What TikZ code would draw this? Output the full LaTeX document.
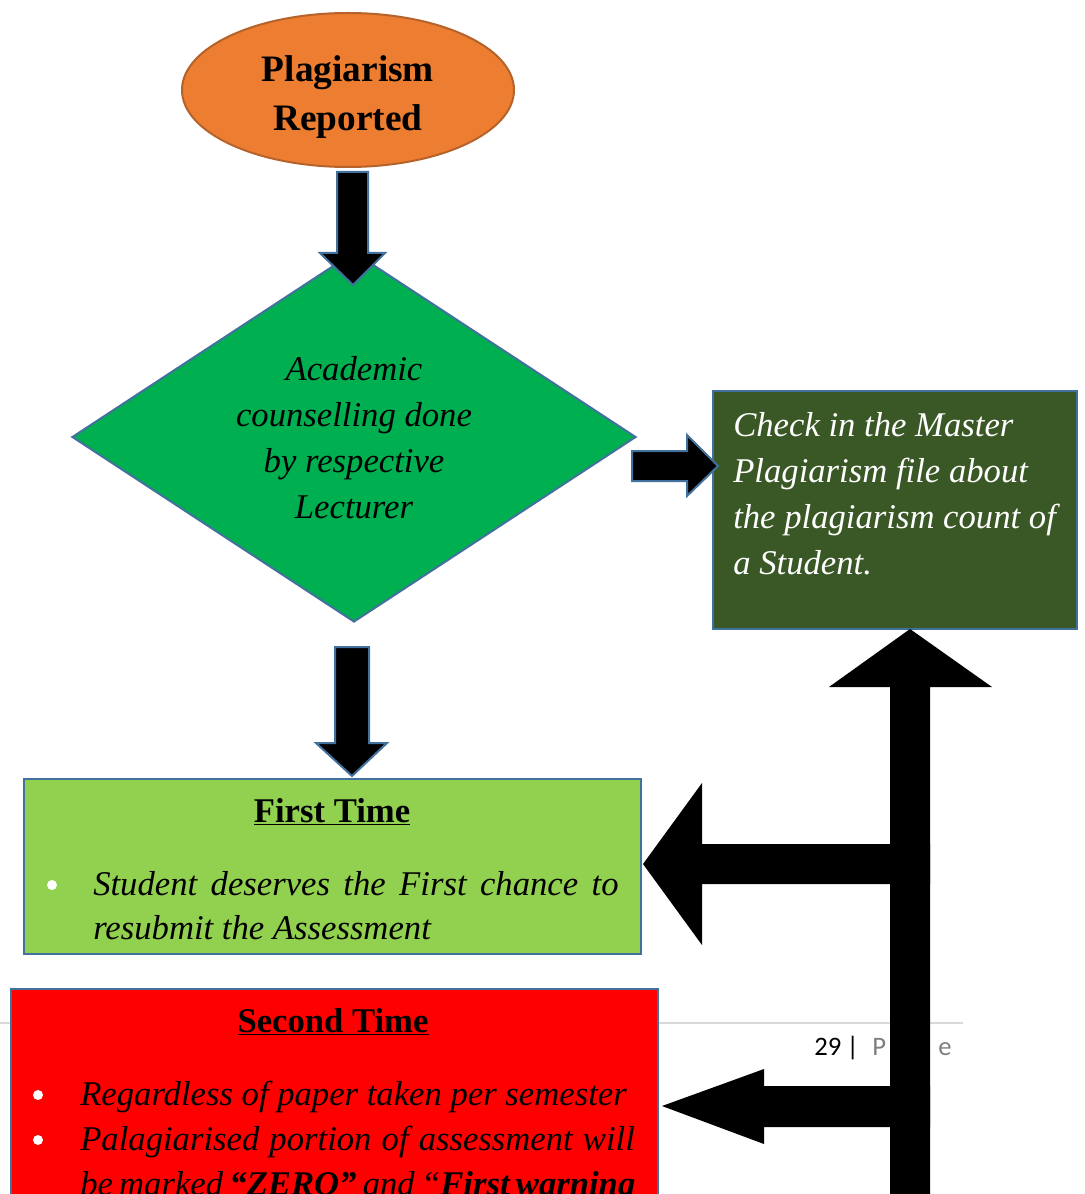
\documentclass[tikz,border=0pt]{standalone}
\usepackage{fontspec}
\setmainfont{Liberation Serif}
\newfontfamily\calib{Carlito}
\usetikzlibrary{shapes.geometric}
\definecolor{orangeF}{HTML}{ED7D31}
\definecolor{orangeD}{HTML}{B5632A}
\definecolor{bordB}{HTML}{41719C}
\definecolor{diaG}{HTML}{00B050}
\definecolor{darkG}{HTML}{3A5726}
\definecolor{lightG}{HTML}{92D050}
\definecolor{redF}{HTML}{FF0000}
\definecolor{footG}{HTML}{D9D9D9}
\definecolor{pageG}{HTML}{7F7F7F}
\newcommand{\pxu}{*0.75pt}
\begin{document}
\begin{tikzpicture}[x=0.75pt,y=-0.75pt,
  blockarr/.style={fill=black, draw=bordB, line width=1.5pt, line join=miter},
  bigarr/.style={fill=black},
  boxS/.style={draw=bordB, line width=1.5pt, inner sep=0, anchor=north west},
  bul/.style={circle, fill=white, inner sep=0, minimum size=10\pxu},
  itf/.style={font=\itshape\fontsize{26}{34.5}\selectfont},
  ttl/.style={font=\bfseries\fontsize{26}{34}\selectfont, anchor=base, inner sep=0},
  txt/.style={anchor=base west, inner sep=0}]
\useasboundingbox (0,0) rectangle (1084,1194);
\clip (0,0) rectangle (1084,1194);
\fill[white] (0,0) rectangle (1084,1194);

% footer
\draw[footG, line width=1.5pt] (0,1023) -- (963,1023);
\node[txt, font=\calib\fontsize{20}{24}\selectfont] (pgnum) at (814,1055) {29\kern4pt |};
\node[txt, font=\calib\fontsize{20}{24}\selectfont, text=pageG] (pgword) at (872,1055) {P\kern6.75pt a\kern6.75pt g\kern6.75pt e};

% start
\node[ellipse, fill=orangeF, draw=orangeD, line width=1.5pt, minimum width=332\pxu, minimum height=154\pxu, inner sep=0] (start) at (348,90) {};
\node[font=\bfseries\fontsize{28}{36.75}\selectfont, align=center] (startt) at (348,97) {Plagiarism\\Reported};

% decision
\node[diamond, fill=diaG, draw=bordB, line width=1.5pt, minimum width=564\pxu, minimum height=370\pxu, inner sep=0] (dia) at (354,437) {};
\node[itf, align=center] (diat) at (354,438) {Academic\\counselling done\\by respective\\Lecturer};

% check box
\node[boxS, fill=darkG, minimum width=364\pxu, minimum height=238\pxu] (chk) at (712,390) {};
\node[txt, itf, text=white] (chkt) at (733,436) {\parbox[t]{350pt}{Check in the Master\\Plagiarism file about\\the plagiarism count of\\a Student.}};

% first time
\node[boxS, fill=lightG, minimum width=617\pxu, minimum height=175\pxu] (first) at (23,778) {};
\node[ttl] (firstt) at (332,822) {\underline{First Time}};
\node[bul] (b1) at (52,885) {};
\node[txt, font=\itshape\fontsize{26}{33}\selectfont] (firstx) at (93,895) {\parbox[t]{394pt}{Student deserves the First chance to\linebreak resubmit the Assessment}};

% second time
\node[boxS, fill=redF, minimum width=647\pxu, minimum height=260\pxu] (second) at (10,988) {};
\node[ttl] (secondt) at (333,1032) {\underline{Second Time}};
\node[bul] (b2) at (38,1095) {};
\node[bul] (b3) at (38,1140) {};
\node[txt, font=\itshape\fontsize{26}{33.75}\selectfont] (secx) at (80,1105) {\parbox[t]{416pt}{Regardless of paper taken per semester\par
Palagiarised portion of assessment will\linebreak
\hbox{\spaceskip=0.18em be marked \textbf{“ZERO”} and “\textbf{First warning}}}};

% block arrows
\filldraw[blockarr] (337,172) -- (368,172) -- (368,253) -- (385,253) -- (353,285) -- (320,253) -- (337,253) -- cycle;
\filldraw[blockarr] (335,647) -- (369,647) -- (369,743) -- (387,743) -- (352,776) -- (316,743) -- (335,743) -- cycle;
\filldraw[blockarr] (632,451) -- (687,451) -- (687,435) -- (718,466) -- (687,496) -- (687,481) -- (632,481) -- cycle;

% big return arrows
\fill[bigarr] (890,687) -- (829,687) -- (910,629) -- (992,687) -- (930,687) -- (930,1200) -- (890,1200) -- cycle;
\fill[bigarr] (930,844) -- (702,844) -- (702,783) -- (643,864) -- (702,945) -- (702,884) -- (930,884) -- cycle;
\fill[bigarr] (930,1086) -- (764,1086) -- (764,1069) -- (662,1106) -- (764,1144) -- (764,1127) -- (930,1127) -- cycle;
\end{tikzpicture}
\end{document}
